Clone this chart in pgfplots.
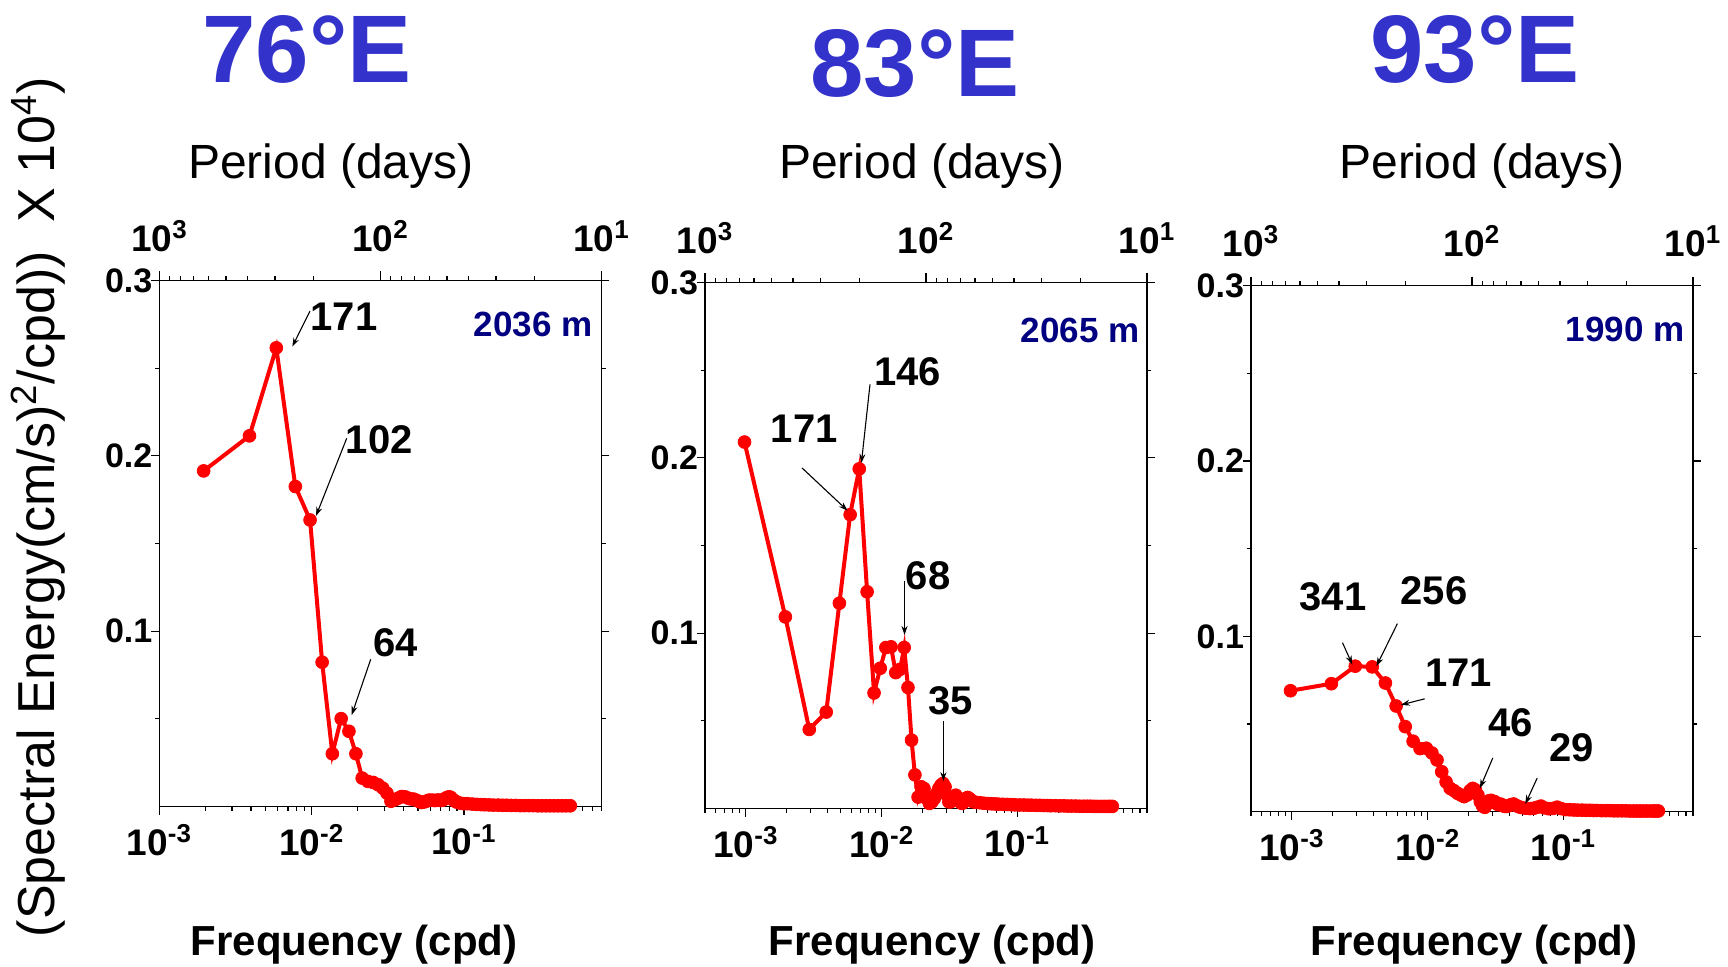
\documentclass[border=0pt]{standalone}
\usepackage{fontspec}
\setmainfont{Liberation Sans}
\usepackage{pgfplots}
\pgfplotsset{compat=1.18}
\usetikzlibrary{arrows.meta}
\definecolor{titleblue}{RGB}{51,51,204}
\definecolor{depthblue}{RGB}{0,0,128}

\pgfplotsset{
  freqaxis/.style={
    scale only axis, width=221pt, height=263pt, anchor=south west,
    ymin=0, ymax=0.3,
    xtick={0.001,0.01,0.1},
    xticklabels={10\textsuperscript{-3},10\textsuperscript{-2},10\textsuperscript{-1}},
    ytick={0.1,0.2,0.3}, yticklabels={0.1,0.2,0.3},
    minor ytick={0.05,0.15,0.25},
    xtick pos=left, ytick pos=both, yticklabel pos=left,
    tick align=outside,
    major tick length=4pt, minor tick length=2.2pt,
    tick style={black, line width=0.6pt},
    axis line style={line width=0.7pt},
    x tick label style={font=\fontsize{18.5}{19}\selectfont\bfseries},
    y tick label style={font=\fontsize{17}{17}\selectfont\bfseries},
    xticklabel shift=1.5pt, yticklabel shift=-4pt,
  },
  periodaxis/.style={
    scale only axis, width=221pt, height=263pt, anchor=south west,
    x dir=reverse, xmin=10, xmax=1000, ymin=0, ymax=1,
    axis x line*=top, hide y axis,
    xtick={10,100,1000},
    xticklabels={10\textsuperscript{1},10\textsuperscript{2},10\textsuperscript{3}},
    minor xtick={20,30,40,50,60,70,80,90,200,300,400,500,600,700,800,900},
    tick align=outside,
    major tick length=4.5pt, minor tick length=2.2pt,
    tick style={black, line width=0.6pt},
    axis line style={line width=0.7pt},
    x tick label style={font=\fontsize{18.5}{19}\selectfont\bfseries},
    xticklabel shift=6.5pt,
  },
  spec/.style={red, line width=2pt, mark=*, mark size=3.2pt,
    mark options={solid, line width=0.4pt}},
}
\tikzset{
  peak/.style={font=\fontsize{20}{20}\selectfont\bfseries, anchor=base, inner sep=0pt},
  peakarrow/.style={-{Stealth[length=4.5pt,width=3pt]}, line width=0.55pt},
  depth/.style={font=\fontsize{17.5}{18}\selectfont\bfseries, text=depthblue, anchor=base east, inner sep=0pt},
  station/.style={font=\fontsize{48}{48}\selectfont\bfseries, text=titleblue, anchor=base},
  period/.style={font=\fontsize{24}{24}\selectfont, anchor=base},
  freq/.style={font=\fontsize{21}{21}\selectfont\bfseries, anchor=base},
}

\begin{document}
\begin{tikzpicture}
\path[use as bounding box] (0,0) rectangle (864pt,483pt);

% ---- 76E, 2036 m
\begin{semilogxaxis}[freqaxis, at={(79.7pt,79.75pt)}, xmin=0.001, xmax=0.8,
  minor xtick={0.002,0.003,0.004,0.005,0.006,0.007,0.008,0.009,
    0.02,0.03,0.04,0.05,0.06,0.07,0.08,0.09,0.2,0.3,0.4,0.5,0.6,0.7,0.8}]
\addplot[spec] coordinates {
 (0.001953,0.1914) (0.003906,0.2114) (0.005859,0.2616) (0.007813,0.1825)
 (0.009766,0.1634) (0.011719,0.0823) (0.013672,0.0301) (0.015625,0.0501)
 (0.017578,0.0429) (0.019531,0.0301) (0.021484,0.0162) (0.023438,0.0143)
 (0.025391,0.0137) (0.027344,0.0124) (0.029297,0.0105) (0.03125,0.0076)
 (0.033203,0.0030) (0.035156,0.0038) (0.037109,0.0048) (0.039063,0.0057)
 (0.041016,0.0055) (0.042969,0.0048) (0.044922,0.0043) (0.046875,0.0042)
 (0.048828,0.0035) (0.050781,0.0029) (0.052734,0.0023) (0.054688,0.0026)
 (0.056641,0.0030) (0.058594,0.0036) (0.060547,0.0036) (0.0625,0.0036)
 (0.064453,0.0034) (0.066406,0.0036) (0.068359,0.0037) (0.070313,0.0034)
 (0.072266,0.0036) (0.074219,0.0042) (0.076172,0.0048) (0.078125,0.0053)
 (0.080078,0.0055) (0.082031,0.0052) (0.083984,0.0042) (0.085938,0.0035)
 (0.087891,0.0030) (0.089844,0.0025) (0.09375,0.0020) (0.099609,0.0016)
 (0.105469,0.0016) (0.113281,0.0014) (0.121094,0.0012) (0.128906,0.0011)
 (0.136719,0.0010) (0.146484,0.0009) (0.15625,0.0008) (0.167969,0.0008)
 (0.179688,0.0007) (0.191406,0.0007) (0.205078,0.0006) (0.21875,0.0006)
 (0.234375,0.0005) (0.25,0.0005) (0.267578,0.0005) (0.285156,0.0005)
 (0.304688,0.0004) (0.324219,0.0004) (0.345703,0.0004) (0.367188,0.0004)
 (0.390625,0.0004) (0.416016,0.0004) (0.441406,0.0004) (0.46875,0.0004)
 (0.5,0.0004)};
\end{semilogxaxis}
\begin{semilogxaxis}[periodaxis, at={(79.7pt,79.75pt)}]
\end{semilogxaxis}

% ---- 83E, 2065 m
\begin{semilogxaxis}[freqaxis, at={(352.5pt,78.75pt)}, xmin=0.0005, xmax=0.9,
  minor xtick={0.0005,0.0006,0.0007,0.0008,0.0009,0.002,0.003,0.004,0.005,0.006,0.007,0.008,0.009,
    0.02,0.03,0.04,0.05,0.06,0.07,0.08,0.09,0.2,0.3,0.4,0.5,0.6,0.7,0.8,0.9}]
\addplot[spec] coordinates {
 (0.000977,0.2090) (0.001953,0.1093) (0.00293,0.0451) (0.003906,0.0550)
 (0.004883,0.1171) (0.005859,0.1676) (0.006836,0.1937) (0.007813,0.1236)
 (0.008789,0.0659) (0.009766,0.0800) (0.010742,0.0918) (0.011719,0.0922)
 (0.012695,0.0775) (0.013672,0.0794) (0.014648,0.0918) (0.015625,0.0690)
 (0.016602,0.0390) (0.017578,0.0192) (0.018555,0.0065) (0.019531,0.0124)
 (0.020508,0.0114) (0.021484,0.0057) (0.022461,0.0029) (0.023438,0.0038)
 (0.024414,0.0057) (0.025391,0.0086) (0.026367,0.0114) (0.027344,0.0133)
 (0.02832,0.0143) (0.029297,0.0124) (0.030273,0.0076) (0.03125,0.0038)
 (0.032227,0.0038) (0.033203,0.0048) (0.03418,0.0070) (0.035156,0.0076)
 (0.036133,0.0063) (0.037109,0.0045) (0.038086,0.0035) (0.039063,0.0029)
 (0.040039,0.0035) (0.041016,0.0048) (0.041992,0.0058) (0.042969,0.0063)
 (0.043945,0.0058) (0.044922,0.0052) (0.045898,0.0045) (0.046875,0.0040)
 (0.048828,0.0036) (0.052734,0.0033) (0.056641,0.0030) (0.060547,0.0028)
 (0.064453,0.0027) (0.068359,0.0026) (0.072266,0.0025) (0.078125,0.0024)
 (0.083984,0.0023) (0.089844,0.0022) (0.095703,0.0021) (0.103516,0.0020)
 (0.111328,0.0020) (0.119141,0.0019) (0.126953,0.0019) (0.136719,0.0018)
 (0.146484,0.0018) (0.15625,0.0017) (0.166016,0.0017) (0.175781,0.0016)
 (0.19043,0.0016) (0.205078,0.0015) (0.219727,0.0015) (0.234375,0.0014)
 (0.25,0.0014) (0.268555,0.0014) (0.288086,0.0013) (0.307617,0.0013)
 (0.327148,0.0013) (0.34668,0.0013) (0.366211,0.0012) (0.385742,0.0012)
 (0.410156,0.0012) (0.43457,0.0012) (0.458984,0.0012) (0.478516,0.0012)
 (0.5,0.0012)};
\end{semilogxaxis}
\begin{semilogxaxis}[periodaxis, at={(352.5pt,78.75pt)}]
\end{semilogxaxis}

% ---- 93E, 1990 m
\begin{semilogxaxis}[freqaxis, at={(625.5pt,77.15pt)}, xmin=0.0005, xmax=0.9,
  minor xtick={0.0005,0.0006,0.0007,0.0008,0.0009,0.002,0.003,0.004,0.005,0.006,0.007,0.008,0.009,
    0.02,0.03,0.04,0.05,0.06,0.07,0.08,0.09,0.2,0.3,0.4,0.5,0.6,0.7,0.8,0.9}]
\addplot[spec] coordinates {
 (0.000977,0.0690) (0.001953,0.0730) (0.00293,0.0830) (0.003906,0.0826)
 (0.004883,0.0734) (0.005859,0.0603) (0.006836,0.0485) (0.007813,0.0402)
 (0.008789,0.0360) (0.009766,0.0362) (0.010742,0.0335) (0.011719,0.0295)
 (0.012695,0.0228) (0.013672,0.0170) (0.014648,0.0133) (0.015625,0.0120)
 (0.016602,0.0105) (0.017578,0.0095) (0.018555,0.0086) (0.019531,0.0095)
 (0.020508,0.0120) (0.021484,0.0133) (0.022461,0.0124) (0.023438,0.0095)
 (0.024414,0.0057) (0.025391,0.0032) (0.026367,0.0025) (0.027344,0.0044)
 (0.02832,0.0062) (0.029297,0.0065) (0.030273,0.0055) (0.03125,0.0057)
 (0.032227,0.0045) (0.033203,0.0040) (0.03418,0.0044) (0.035156,0.0040)
 (0.036133,0.0033) (0.037109,0.0030) (0.038086,0.0030) (0.039063,0.0033)
 (0.041016,0.0040) (0.042969,0.0044) (0.044922,0.0035) (0.046875,0.0028)
 (0.048828,0.0024) (0.052734,0.0020) (0.056641,0.0018) (0.060547,0.0020)
 (0.064453,0.0026) (0.068359,0.0032) (0.072266,0.0022) (0.078125,0.0017)
 (0.083984,0.0019) (0.089844,0.0026) (0.095703,0.0018) (0.103516,0.0012)
 (0.111328,0.0011) (0.119141,0.0010) (0.126953,0.0009) (0.136719,0.0009)
 (0.146484,0.0008) (0.15625,0.0008) (0.166016,0.0007) (0.175781,0.0007)
 (0.19043,0.0006) (0.205078,0.0006) (0.219727,0.0006) (0.234375,0.0005)
 (0.25,0.0005) (0.268555,0.0005) (0.288086,0.0005) (0.307617,0.0004)
 (0.327148,0.0004) (0.34668,0.0004) (0.366211,0.0004) (0.385742,0.0004)
 (0.410156,0.0004) (0.43457,0.0004) (0.458984,0.0004) (0.478516,0.0004)
 (0.5,0.0004)};
\end{semilogxaxis}
\begin{semilogxaxis}[periodaxis, at={(625.5pt,77.15pt)}]
\end{semilogxaxis}

% station titles, axis titles
\node[station] at (153.5pt,441.5pt) {76°E};
\node[station] at (457.5pt,434.5pt) {83°E};
\node[station] at (737.5pt,441.5pt) {93°E};
\node[period] at (165.5pt,393.75pt) {Period (days)};
\node[period] at (461pt,393.75pt) {Period (days)};
\node[period] at (741pt,393.75pt) {Period (days)};
\node[freq] at (177pt,5.5pt) {Frequency (cpd)};
\node[freq] at (466pt,5.5pt) {Frequency (cpd)};
\node[freq] at (737pt,5.5pt) {Frequency (cpd)};
\node[rotate=90, font=\fontsize{26}{26}\selectfont] at (19pt,229.5pt)
  {(Spectral Energy(cm/s)\textsuperscript{2}/cpd))~~X 10\textsuperscript{4})};

% depth labels
\node[depth] at (296.5pt,314.6pt) {2036 m};
\node[depth] at (570pt,311.65pt) {2065 m};
\node[depth] at (842.5pt,312.5pt) {1990 m};

% peak periods, panel 1
\node[peak] at (172pt,318pt) {171};
\node[peak] at (189.6pt,256.5pt) {102};
\node[peak] at (197.9pt,154.65pt) {64};
\draw[peakarrow] (155pt,327.5pt) -- (146.15pt,309.65pt);
\draw[peakarrow] (173.35pt,263.85pt) -- (158pt,225pt);
\draw[peakarrow] (185.35pt,153.35pt) -- (175.85pt,125.5pt);

% panel 2
\node[peak] at (402.1pt,262pt) {171};
\node[peak] at (453.9pt,290.25pt) {146};
\node[peak] at (464.1pt,188.4pt) {68};
\node[peak] at (475.4pt,125.8pt) {35};
\draw[peakarrow] (401pt,249.05pt) -- (423.8pt,227.65pt);
\draw[peakarrow] (435pt,290.8pt) -- (430.7pt,251.5pt);
\draw[peakarrow] (452.25pt,192.6pt) -- (452.25pt,165.5pt);
\draw[peakarrow] (471.7pt,122.5pt) -- (471.7pt,92.4pt);

% panel 3
\node[peak] at (666.5pt,177.85pt) {341};
\node[peak] at (717pt,180.95pt) {256};
\node[peak] at (729.3pt,139.8pt) {171};
\node[peak] at (755.4pt,114.6pt) {46};
\node[peak] at (785.7pt,102.05pt) {29};
\draw[peakarrow] (671.25pt,161.65pt) -- (676.15pt,150.7pt);
\draw[peakarrow] (698.7pt,171.2pt) -- (688.2pt,149.9pt);
\draw[peakarrow] (712.35pt,133.6pt) -- (700.45pt,130.55pt);
\draw[peakarrow] (746.4pt,104.05pt) -- (739.95pt,88.9pt);
\draw[peakarrow] (768.6pt,94pt) -- (762.65pt,81pt);
\end{tikzpicture}
\end{document}
